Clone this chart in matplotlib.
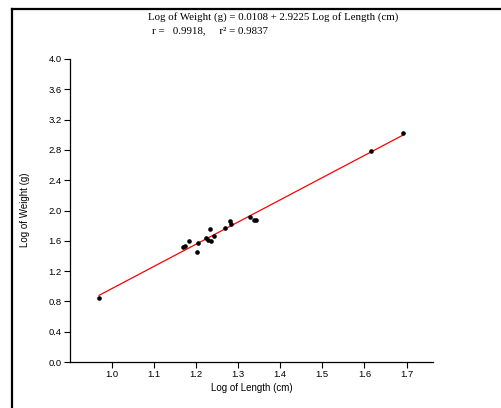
import numpy as np
import matplotlib
matplotlib.use('Agg')
import matplotlib.pyplot as plt
from matplotlib.lines import Line2D

# log length (cm) and log weight (g)
log_length = [0.970, 1.169, 1.174, 1.183, 1.202, 1.204, 1.223, 1.229, 1.234,
              1.236, 1.244, 1.269, 1.280, 1.283, 1.329, 1.338, 1.343, 1.616, 1.691]
log_weight = [0.845, 1.514, 1.531, 1.593, 1.456, 1.575, 1.637, 1.606, 1.752,
              1.597, 1.667, 1.769, 1.857, 1.826, 1.910, 1.875, 1.871, 2.781, 3.023]

x_ticks = [1.0, 1.1, 1.2, 1.3, 1.4, 1.5, 1.6, 1.7]
y_ticks = [0.0, 0.4, 0.8, 1.2, 1.6, 2.0, 2.4, 2.8, 3.2, 3.6, 4.0]

eq_text = 'Log of Weight (g) = 0.0108 + 2.9225 Log of Length (cm)'
r_text = 'r =   0.9918,     r\u00b2 = 0.9837'

plt.rcParams['font.family'] = ['Liberation Sans', 'DejaVu Sans']

fig = plt.figure(figsize=(5.02, 4.08), dpi=100)
ax = fig.add_axes([70 / 502, 1 - 362 / 408, (432.7 - 70) / 502, (362 - 59) / 408])

# fitted line through the points
x = np.array(log_length)
y = np.array(log_weight)
slope, icpt = np.polyfit(x, y, 1)
xl = np.array([x.min(), x.max()])
ax.plot(xl, icpt + slope * xl, color='red', lw=0.9, zorder=2)
ax.plot(x, y, 'o', color='black', ms=2.3, zorder=3)

ax.set_xlim(0.901, 1.762)
ax.set_ylim(0, 4.0)
ax.set_xticks(x_ticks)
ax.set_yticks(y_ticks)
ax.set_xticklabels([f'{v:.1f}' for v in x_ticks])
ax.set_yticklabels([f'{v:.1f}' for v in y_ticks])
ax.spines['top'].set_visible(False)
ax.spines['right'].set_visible(False)
for s in ['left', 'bottom']:
    ax.spines[s].set_linewidth(0.9)
ax.tick_params(direction='out', length=4, width=0.8, labelsize=6.8, pad=2)

fig.text(252 / 502, 1 - 388 / 408, 'Log of Length (cm)', ha='center', va='center', fontsize=7)
fig.text(25 / 502, 1 - 210 / 408, 'Log of Weight (g)', ha='center', va='center',
         rotation=90, fontsize=7)

fig.text(148 / 502, 1 - 17 / 408, eq_text, ha='left', va='center',
         fontsize=7.8, family='Liberation Serif')
fig.text(152 / 502, 1 - 31 / 408, r_text, ha='left', va='center',
         fontsize=7.8, family='Liberation Serif')

# black frame on left and top
fig.add_artist(Line2D([12.5 / 502, 12.5 / 502], [0, 1 - 8.5 / 408], color='black', lw=1.6,
                      transform=fig.transFigure, solid_capstyle='projecting'))
fig.add_artist(Line2D([12.5 / 502, 1], [1 - 8.5 / 408, 1 - 8.5 / 408], color='black', lw=1.6,
                      transform=fig.transFigure, solid_capstyle='projecting'))

fig.savefig('out.png', dpi=100)
